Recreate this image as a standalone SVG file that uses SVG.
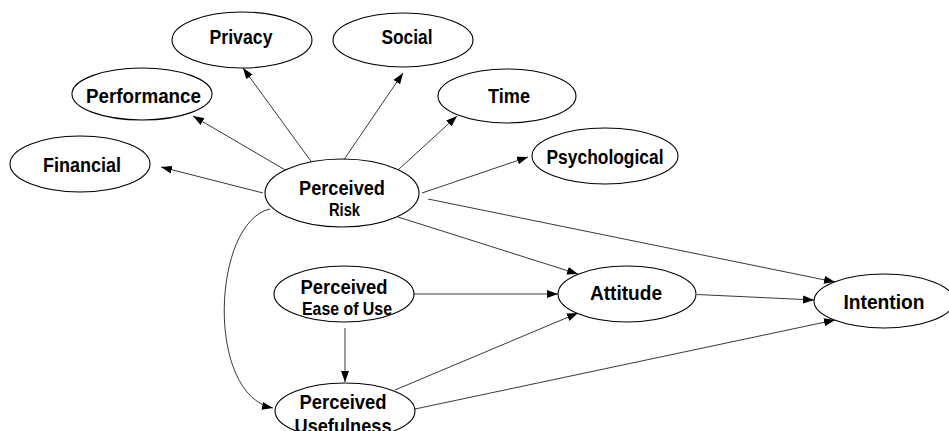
<svg xmlns="http://www.w3.org/2000/svg" width="949" height="431" viewBox="0 0 949 431">
  <style>
    .node ellipse { fill: #ffffff; stroke: #000000; stroke-width: 1.1; }
    .node text { font-family: "Liberation Sans", Arial, sans-serif; font-weight: bold; fill: #000000; text-anchor: middle; }
    .big { font-size: 21px; }
    .small { font-size: 18.5px; }
    .edges path, .edges line { fill: none; stroke: #222222; stroke-width: 0.9; marker-end: url(#ah); }
  </style>
  <defs>
    <marker id="ah" viewBox="0 0 11 8" refX="11" refY="4" markerWidth="11" markerHeight="8" orient="auto" markerUnits="userSpaceOnUse">
      <path d="M0,0 L11,4 L0,8 z" fill="#000000"/>
    </marker>
  </defs>
  <rect width="949" height="431" fill="#ffffff"/>

  <!-- connectors -->
  <g id="edges" class="edges">
    <line x1="263" y1="193" x2="161" y2="167"/>
    <line x1="287" y1="171" x2="193" y2="116"/>
    <line x1="313" y1="164" x2="243" y2="68"/>
    <line x1="343" y1="161" x2="403" y2="73"/>
    <line x1="398" y1="170" x2="457" y2="116"/>
    <line x1="422" y1="193" x2="528" y2="157"/>
    <line x1="428" y1="199" x2="835" y2="282"/>
    <line x1="398" y1="217" x2="578" y2="274"/>
    <line x1="414" y1="294" x2="558" y2="294"/>
    <line x1="345" y1="328" x2="345" y2="382"/>
    <path d="M270,209 C212,222 205,395 273,408"/>
    <line x1="395" y1="390" x2="578" y2="313"/>
    <line x1="415" y1="409" x2="835" y2="320"/>
    <line x1="697" y1="294.5" x2="814" y2="300"/>
  </g>

  <!-- nodes -->
  <g id="privacy" class="node">
    <ellipse cx="242" cy="40" rx="70" ry="28"/>
    <text class="big" x="241" y="44" textLength="63" lengthAdjust="spacingAndGlyphs">Privacy</text>
  </g>
  <g id="social" class="node">
    <ellipse cx="403" cy="40" rx="70" ry="27"/>
    <text class="big" x="407" y="44" textLength="51" lengthAdjust="spacingAndGlyphs">Social</text>
  </g>
  <g id="performance" class="node">
    <ellipse cx="142" cy="94" rx="70" ry="26"/>
    <text class="big" x="143.5" y="103" textLength="115" lengthAdjust="spacingAndGlyphs">Performance</text>
  </g>
  <g id="time" class="node">
    <ellipse cx="507" cy="96" rx="69" ry="27"/>
    <text class="big" x="509" y="103" textLength="42" lengthAdjust="spacingAndGlyphs">Time</text>
  </g>
  <g id="financial" class="node">
    <ellipse cx="80" cy="164" rx="70" ry="28"/>
    <text class="big" x="82" y="172" textLength="78" lengthAdjust="spacingAndGlyphs">Financial</text>
  </g>
  <g id="psychological" class="node">
    <ellipse cx="605" cy="156" rx="73" ry="28"/>
    <text class="big" x="605" y="164" textLength="117" lengthAdjust="spacingAndGlyphs">Psychological</text>
  </g>
  <g id="perceived-risk" class="node">
    <ellipse cx="342" cy="193" rx="77" ry="34"/>
    <text class="big" x="342" y="195" textLength="86" lengthAdjust="spacingAndGlyphs">Perceived</text>
    <text class="small" x="344.5" y="216" textLength="31" lengthAdjust="spacingAndGlyphs">Risk</text>
  </g>
  <g id="perceived-ease-of-use" class="node">
    <ellipse cx="344" cy="294" rx="70" ry="28"/>
    <text class="big" x="344" y="294" textLength="87" lengthAdjust="spacingAndGlyphs">Perceived</text>
    <text class="small" x="347" y="315" textLength="90" lengthAdjust="spacingAndGlyphs">Ease of Use</text>
  </g>
  <g id="attitude" class="node">
    <ellipse cx="627" cy="294" rx="69" ry="28"/>
    <text class="big" x="626" y="300" textLength="72" lengthAdjust="spacingAndGlyphs">Attitude</text>
  </g>
  <g id="intention" class="node">
    <ellipse cx="884" cy="301" rx="70" ry="27"/>
    <text class="big" x="884" y="309" textLength="81" lengthAdjust="spacingAndGlyphs">Intention</text>
  </g>
  <g id="perceived-usefulness" class="node">
    <ellipse cx="345" cy="411" rx="70" ry="28"/>
    <text class="big" x="343" y="409" textLength="87" lengthAdjust="spacingAndGlyphs">Perceived</text>
    <text class="big" x="343" y="433" textLength="97" lengthAdjust="spacingAndGlyphs">Usefulness</text>
  </g>
</svg>
